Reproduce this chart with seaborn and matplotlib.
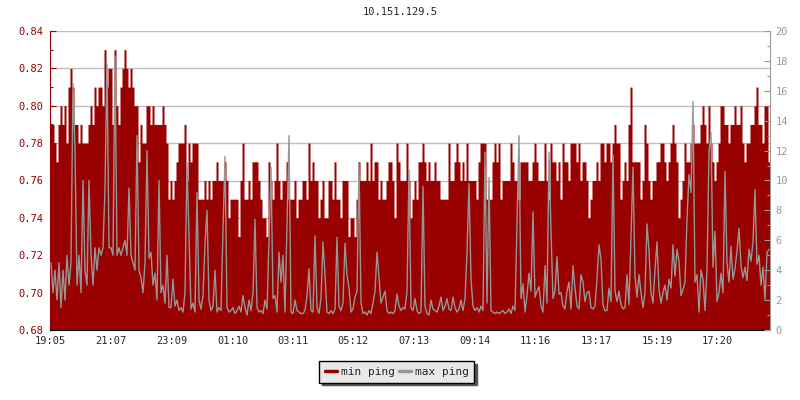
import numpy as np
import matplotlib
matplotlib.use('Agg')
import matplotlib.pyplot as plt
from matplotlib.lines import Line2D
from matplotlib.ticker import MultipleLocator, FormatStrFormatter
import seaborn as sns

# Ping chart for one host, 24h window, one sample every 4 minutes

host_name = '10.151.129.5'
time_labels = ['19:05', '21:07', '23:09', '01:10', '03:11', '05:12',
               '07:13', '09:14', '11:16', '13:17', '15:19', '17:20']
window_minutes = 1440
sample_step = 4

# min ping in hundredths of ms (left axis), one line = 30 samples (~2h)
min_ping = [
    79, 79, 78, 77, 79, 80, 79, 80, 78, 81, 82, 81, 79, 79, 78, 79, 78, 78, 78, 79, 80, 79, 81, 80, 81, 81, 80, 83, 81, 82,
    82, 79, 83, 80, 79, 81, 82, 83, 82, 81, 82, 81, 80, 80, 77, 79, 78, 78, 80, 80, 79, 80, 79, 79, 79, 79, 80, 79, 78, 75,
    76, 75, 76, 77, 78, 78, 78, 79, 76, 78, 77, 78, 78, 78, 75, 75, 75, 76, 75, 76, 75, 76, 76, 77, 76, 76, 76, 77, 76, 74,
    75, 75, 75, 75, 73, 76, 78, 75, 75, 76, 75, 77, 77, 77, 76, 75, 74, 74, 73, 77, 76, 75, 76, 78, 76, 75, 76, 76, 77, 75,
    75, 75, 76, 74, 75, 75, 76, 76, 75, 78, 76, 77, 76, 76, 74, 75, 76, 74, 74, 76, 76, 75, 77, 75, 75, 74, 76, 76, 76, 73,
    74, 74, 73, 75, 77, 76, 76, 76, 77, 76, 78, 76, 77, 77, 75, 76, 75, 75, 76, 77, 77, 76, 74, 78, 77, 76, 76, 76, 78, 76,
    74, 75, 76, 75, 77, 77, 78, 77, 76, 77, 76, 76, 77, 76, 76, 75, 75, 75, 75, 78, 76, 76, 77, 78, 77, 76, 77, 76, 78, 76,
    76, 76, 76, 75, 77, 78, 78, 78, 75, 75, 75, 77, 78, 77, 78, 75, 76, 76, 76, 76, 78, 77, 76, 76, 75, 77, 77, 77, 77, 76,
    76, 77, 78, 77, 76, 76, 76, 78, 76, 75, 78, 77, 77, 76, 77, 75, 78, 77, 77, 76, 78, 78, 78, 77, 78, 76, 77, 77, 76, 74,
    75, 76, 76, 77, 76, 78, 78, 77, 78, 78, 77, 78, 79, 78, 78, 75, 76, 77, 76, 79, 81, 77, 77, 77, 77, 75, 76, 79, 78, 76,
    75, 76, 76, 77, 77, 78, 78, 77, 76, 77, 78, 79, 78, 77, 74, 75, 76, 78, 77, 77, 78, 79, 78, 78, 78, 79, 80, 79, 78, 80,
    78, 77, 76, 77, 78, 80, 80, 79, 79, 78, 79, 79, 80, 79, 79, 80, 78, 77, 78, 78, 79, 79, 80, 81, 79, 79, 78, 80, 80, 77,
]

# max ping in ms (right axis)
max_ping = [
    4.5, 2.5, 4, 2, 4.5, 1.5, 4, 2, 5, 3, 4.5, 16.5, 12, 3, 5, 2.5, 10, 4, 3, 10, 5, 3, 5.5, 4, 5.5, 5, 5.5, 9.5, 17.8, 5.5,
    5.5, 5, 18.3, 5, 5.5, 5, 5.5, 6, 5, 9.5, 5, 4.5, 4, 13, 4, 3.5, 2.5, 4.5, 12, 4.8, 5.2, 3, 3.8, 2, 10, 2.5, 3, 1.8, 5, 1.5,
    1.5, 3.4, 1.6, 2, 1.3, 1.5, 1.2, 2.5, 11.2, 6.4, 1.4, 1.8, 1.2, 9.2, 2, 1.4, 2.3, 5.8, 8, 2, 1.3, 1.6, 4, 1.2, 1.5, 1.3, 6.7, 11.6, 1.5, 1.2,
    1.3, 1.5, 1.1, 1.3, 1.6, 1.2, 2.3, 1.5, 1, 2, 1.3, 2.5, 7.4, 1.5, 1.2, 1.3, 1.1, 2, 1.4, 5.9, 10.9, 2.1, 2.3, 1.2, 5.2, 3.2, 5, 1.2, 7, 13,
    1.2, 1.1, 2, 1.3, 1.2, 1.1, 1.1, 1.3, 2.3, 4.1, 1.3, 1.2, 6.3, 1.5, 1.1, 2.1, 5.9, 3.7, 1.2, 1.1, 1.3, 1.1, 1.4, 6.2, 1.6, 1.3, 1.8, 5.8, 3.7, 2.8,
    1.2, 1.4, 2.2, 2.6, 11.1, 1.8, 1.1, 1.2, 1, 1.3, 1.1, 1.8, 2.6, 5.2, 3.5, 1.8, 2.2, 2.6, 1.3, 1.1, 1.2, 1.1, 1.3, 2.4, 1.6, 1.3, 1.5, 1.4, 2.6, 10.7,
    1.5, 1.3, 2.1, 1.3, 1.1, 1.2, 9.6, 1.6, 1.1, 1, 2, 1.4, 1.3, 1.2, 1.6, 2.2, 1.3, 1.6, 2.1, 1.4, 1.3, 2.2, 1.5, 1.2, 1.4, 2, 1.3, 2.1, 5.2, 9.8,
    3.4, 1.6, 1.3, 1.5, 1.2, 1.6, 1.3, 11.9, 1.8, 10.2, 1.3, 1.2, 1.1, 1.2, 1.1, 1.2, 1.3, 1.1, 1.2, 1.4, 1.1, 1.6, 1.3, 7.1, 13, 2.1, 3.1, 1.2, 2.3, 3.8,
    2.6, 7.9, 2.2, 2.6, 2.9, 1.6, 1.2, 4.3, 1.8, 11.9, 6.6, 2.1, 2.6, 4.9, 2.4, 2.5, 1.6, 1.4, 2.6, 3.2, 1.4, 4.3, 2.8, 1.6, 1.4, 3.7, 3.2, 1.9, 2.5, 2.6,
    1.5, 1.4, 1.6, 3.4, 5.7, 4.7, 1.7, 1.3, 1.3, 2.8, 1.9, 11.7, 2.6, 1.9, 2.6, 1.7, 1.4, 1.5, 3.7, 1.7, 6.3, 10.9, 3.6, 2.2, 3.7, 2.5, 1.5, 2.5, 7.1, 5.3,
    2.5, 1.8, 4, 5.9, 2.7, 1.8, 2.5, 3, 2, 3.4, 2.8, 5.7, 3.6, 5.4, 4.6, 2.3, 2.7, 3.2, 7.4, 10.4, 9.2, 15.3, 3.2, 3.7, 1.2, 4, 3.4, 1.3, 4, 11.9,
    13.2, 4.2, 6.6, 1.9, 2.5, 3.8, 2.5, 10.6, 4.5, 3.2, 5.6, 3.4, 4.1, 5.3, 6.8, 4.3, 3.5, 4.2, 3.3, 5.4, 4.6, 5.9, 9.4, 4.4, 5, 3, 4.2, 2, 5.2, 5.4,
]

red = '#990000'
gray = '#969696'

sns.set_style('white')
plt.rcParams['font.family'] = ['DejaVu Sans Mono', 'DejaVu Sans']
plt.rcParams['font.size'] = 7.5


def minutes_after_start(label):
    h, m = map(int, label.split(':'))
    h0, m0 = map(int, time_labels[0].split(':'))
    return (h * 60 + m - (h0 * 60 + m0)) % 1440


min_ms = np.array(min_ping) / 100
max_ms = np.array(max_ping, dtype=float)
t = np.arange(len(min_ms)) * sample_step
# repeat last sample so the last step reaches the right edge
t_edge = np.append(t, window_minutes)
min_edge = np.append(min_ms, min_ms[-1])
t_mid = t + sample_step / 2

fig = plt.figure(figsize=(8, 4), dpi=100)
ax = fig.add_axes([0.0625, 0.175, 0.9, 0.7475])

ax.fill_between(t_edge, 0.68, min_edge, step='post', color=red, linewidth=0)
ax.set_xlim(0, window_minutes)
ax.set_ylim(0.68, 0.84)
ax.yaxis.set_major_locator(MultipleLocator(0.02))
ax.yaxis.set_minor_locator(MultipleLocator(0.01))
ax.yaxis.set_major_formatter(FormatStrFormatter('%.2f'))
ax.set_xticks([minutes_after_start(l) for l in time_labels], time_labels)
ax.grid(axis='y', color='#c0c0c0', linewidth=1)
ax.set_axisbelow(True)
ax.tick_params(axis='y', which='major', direction='in', length=4, width=0.8,
               color=red, labelcolor=red, pad=5)
ax.tick_params(axis='y', which='minor', direction='in', length=2.5, width=0.8,
               color=red, left=True)
ax.tick_params(axis='x', direction='in', length=4, width=0.8, color='black', pad=4)
ax.spines['left'].set_color(red)
ax.spines['bottom'].set_color('black')
ax.spines['top'].set_visible(False)
ax.spines['right'].set_visible(False)

ax2 = ax.twinx()
sns.lineplot(x=t_mid, y=max_ms, ax=ax2, color=gray, linewidth=1, estimator=None)
ax2.set_ylim(0, 20)
ax2.set_xlim(0, window_minutes)
ax2.set_xlabel('')
ax2.set_ylabel('')
ax2.yaxis.set_major_locator(MultipleLocator(2))
ax2.yaxis.set_minor_locator(MultipleLocator(1))
ax2.tick_params(axis='y', which='major', direction='in', length=4, width=0.8,
                color='#999999', labelcolor='#999999', pad=4, right=True)
ax2.tick_params(axis='y', which='minor', direction='in', length=2.5, width=0.8,
                color='#999999', right=True)
for side in ['left', 'top', 'bottom']:
    ax2.spines[side].set_visible(False)
ax2.spines['right'].set_color('#999999')

fig.text(0.5, 0.97, host_name, ha='center', va='center', fontsize=7.5)

handles = [Line2D([], [], color=red, linewidth=2.5, label='min ping'),
           Line2D([], [], color=gray, linewidth=2.5, label='max ping')]
fig.legend(handles=handles, loc='center', bbox_to_anchor=(0.496, 0.07), ncol=2,
           frameon=True, fancybox=False, shadow={'color': '#555555', 'alpha': 1},
           edgecolor='black', facecolor='#e8e8e8', framealpha=1,
           handlelength=1.1, handletextpad=0.3, columnspacing=0.4,
           borderpad=0.5, fontsize=8)

fig.savefig('out.png', dpi=100)
